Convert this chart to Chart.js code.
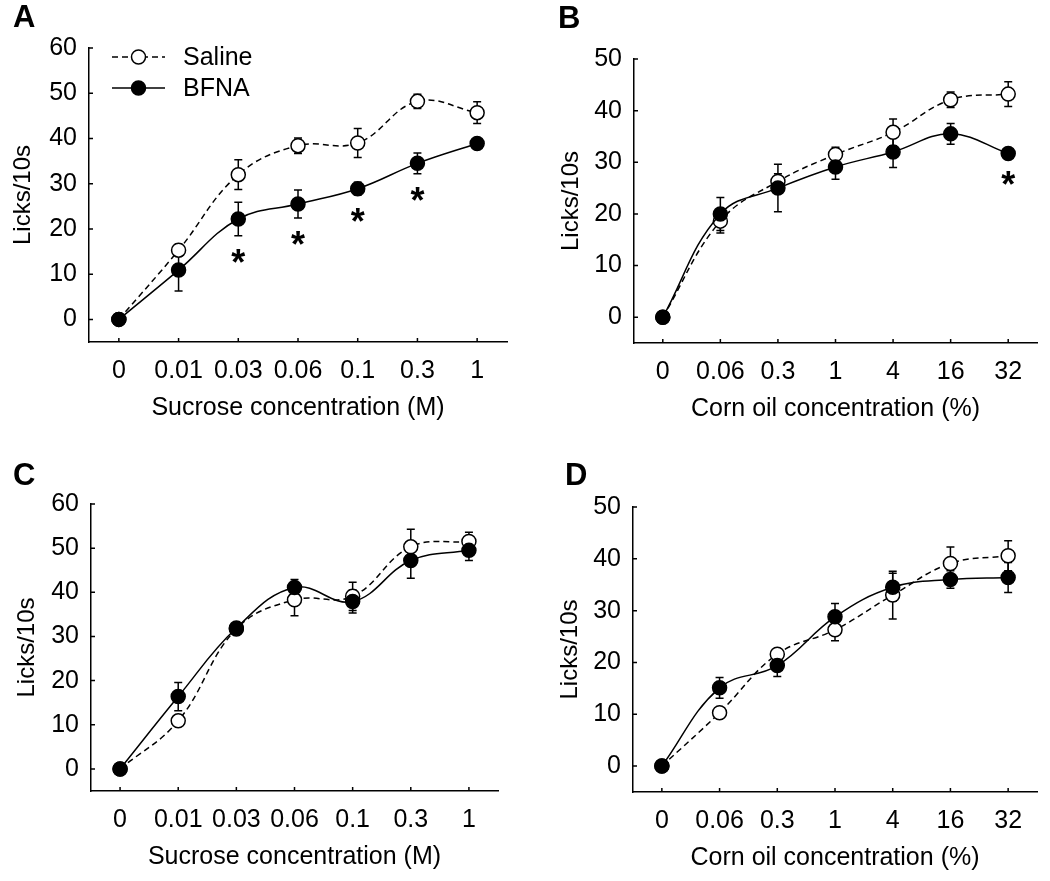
<!DOCTYPE html>
<html>
<head>
<meta charset="utf-8">
<script src="https://cdn.jsdelivr.net/npm/chart.js@4"></script>
<style>
  body { margin: 0; background: #fff; }
  #wrap { position: relative; width: 1050px; height: 881px; }
  canvas { position: absolute; }
</style>
</head>
<body>
<div id="wrap">
  <canvas id="panelA" width="525" height="440" style="left:0;top:0"></canvas>
  <canvas id="panelB" width="525" height="440" style="left:525px;top:0"></canvas>
  <canvas id="panelC" width="525" height="441" style="left:0;top:440px"></canvas>
  <canvas id="panelD" width="525" height="441" style="left:525px;top:440px"></canvas>
</div>
<script>
// categories
const sucrose = ["0", "0.01", "0.03", "0.06", "0.1", "0.3", "1"];
const cornOil = ["0", "0.06", "0.3", "1", "4", "16", "32"];
const ticks60 = [0, 10, 20, 30, 40, 50, 60];
const ticks50 = [0, 10, 20, 30, 40, 50];

// A - sucrose
const salineA = [0, 15.3, 32.0, 38.4, 39.0, 48.2, 45.7];
const salineErrA = [0, 1.3, 3.3, 1.7, 3.2, 1.6, 2.4];
const bfnaA = [0, 10.9, 22.2, 25.5, 28.9, 34.5, 38.9];
const bfnaErrA = [0, 4.6, 3.7, 3.1, 1.4, 2.3, 1.0];
const starsA = [0, 0, 1, 1, 1, 1, 0];

// B - corn oil
const salineB = [0, 18.6, 26.3, 31.5, 35.8, 42.1, 43.2];
const salineErrB = [0, 2.3, 1.5, 1.4, 2.6, 1.5, 2.4];
const bfnaB = [0, 20.0, 25.0, 29.1, 32.0, 35.5, 31.7];
const bfnaErrB = [0, 3.2, 4.6, 2.4, 3.0, 2.0, 0.8];
const starsB = [0, 0, 0, 0, 0, 0, 1];

// C - sucrose
const salineC = [0, 10.9, 31.7, 38.3, 39.1, 50.3, 51.5];
const salineErrC = [0, 0.5, 1.0, 3.6, 3.2, 4.0, 2.1];
const bfnaC = [0, 16.4, 31.9, 41.1, 37.9, 47.2, 49.5];
const bfnaErrC = [0, 3.2, 1.2, 1.8, 2.6, 4.0, 2.3];

// D - corn oil
const salineD = [0, 10.3, 21.6, 26.3, 33.0, 39.1, 40.6];
const salineErrD = [0, 0.3, 0.8, 2.1, 4.6, 3.2, 2.9];
const bfnaD = [0, 15.1, 19.4, 28.8, 34.5, 36.0, 36.4];
const bfnaErrD = [0, 2.0, 2.1, 2.6, 2.7, 1.7, 2.9];

const FONT = '"Liberation Sans", Arial, Helvetica, sans-serif';

// error bars, stars, inward ticks, titles, letter, legend
const figurePlugin = {
    id: "figure",
    beforeDatasetsDraw(chart, args, opts) {
        const ctx = chart.ctx;
        const y = chart.scales.y;
        ctx.save();
        ctx.strokeStyle = "#000";
        ctx.lineWidth = 1.5;
        chart.data.datasets.forEach((ds, i) => {
            const meta = chart.getDatasetMeta(i);
            ds.errors.forEach((e, j) => {
                if (!e) return;
                const px = meta.data[j].x;
                const top = y.getPixelForValue(ds.data[j] + e);
                const bot = y.getPixelForValue(ds.data[j] - e);
                ctx.beginPath();
                ctx.moveTo(px, top); ctx.lineTo(px, bot);
                ctx.moveTo(px - 4, top); ctx.lineTo(px + 4, top);
                ctx.moveTo(px - 4, bot); ctx.lineTo(px + 4, bot);
                ctx.stroke();
            });
        });
        ctx.restore();
    },
    afterDraw(chart, args, opts) {
        const ctx = chart.ctx;
        const area = chart.chartArea;
        const xs = chart.scales.x, ys = chart.scales.y;
        ctx.save();
        ctx.strokeStyle = "#000";
        ctx.fillStyle = "#000";
        ctx.lineWidth = 1.5;

        // inward ticks
        ctx.beginPath();
        ys.ticks.forEach(t => {
            const py = ys.getPixelForValue(t.value);
            ctx.moveTo(area.left, py); ctx.lineTo(area.left + 4, py);
        });
        chart.data.labels.forEach((l, i) => {
            const px = xs.getPixelForValue(i);
            ctx.moveTo(px, area.bottom); ctx.lineTo(px, area.bottom - 4);
        });
        ctx.stroke();

        // asterisks under BFNA
        if (opts.stars) {
            const ds = chart.data.datasets[0];
            const meta = chart.getDatasetMeta(0);
            ctx.font = "bold 36px " + FONT;
            ctx.textAlign = "center";
            ctx.textBaseline = "alphabetic";
            opts.stars.forEach((s, j) => {
                if (!s) return;
                const low = ys.getPixelForValue(ds.data[j] - ds.errors[j]);
                ctx.fillText("*", meta.data[j].x, low + 19 + 20);
            });
        }

        // axis titles
        ctx.font = "25px " + FONT;
        ctx.textAlign = "center";
        ctx.textBaseline = "middle";
        ctx.fillText(opts.xTitle, (area.left + area.right) / 2, area.bottom + 66);
        ctx.save();
        ctx.font = "24px " + FONT;
        ctx.translate(opts.yTitleX, (area.top + area.bottom) / 2);
        ctx.rotate(-Math.PI / 2);
        ctx.fillText("Licks/10s", 0, 0);
        ctx.restore();

        // panel letter
        ctx.font = "bold 31px " + FONT;
        ctx.textAlign = "left";
        ctx.textBaseline = "alphabetic";
        ctx.fillText(opts.letter, opts.letterX, opts.letterY);

        // legend
        if (opts.legend) {
            const order = [1, 0];
            order.forEach((di, r) => {
                const ds = chart.data.datasets[di];
                const cy = area.top + 9 + r * 31;
                const x0 = area.left + 23, x1 = area.left + 76;
                ctx.save();
                ctx.lineWidth = 1.5;
                ctx.setLineDash(ds.borderDash || []);
                ctx.beginPath();
                ctx.moveTo(x0, cy); ctx.lineTo(x1, cy);
                ctx.stroke();
                ctx.setLineDash([]);
                ctx.beginPath();
                ctx.arc((x0 + x1) / 2, cy, 7, 0, Math.PI * 2);
                ctx.fillStyle = ds.pointBackgroundColor;
                ctx.fill();
                ctx.stroke();
                ctx.restore();
                ctx.font = "25px " + FONT;
                ctx.textAlign = "left";
                ctx.textBaseline = "middle";
                ctx.fillText(ds.label, area.left + 94, cy + 1);
            });
        }
        ctx.restore();
    }
};

function makePanel(id, labels, bfna, bfnaErr, saline, salineErr, yMax, yTicks, box, fig) {
    const h = document.getElementById(id).height;
    new Chart(document.getElementById(id), {
        type: "line",
        data: {
            labels: labels,
            datasets: [{
                label: "BFNA",
                data: bfna,
                errors: bfnaErr,
                borderColor: "#000",
                borderWidth: 1.5,
                tension: 0.4,
                pointRadius: 7,
                pointBorderWidth: 1.5,
                pointBackgroundColor: "#000",
                pointBorderColor: "#000"
            }, {
                label: "Saline",
                data: saline,
                errors: salineErr,
                borderColor: "#000",
                borderWidth: 1.5,
                borderDash: [6, 4],
                tension: 0.4,
                pointRadius: 7,
                pointBorderWidth: 1.5,
                pointBackgroundColor: "#fff",
                pointBorderColor: "#000"
            }]
        },
        options: {
            responsive: false,
            animation: false,
            layout: { padding: { top: box.top, right: 525 - box.right, left: 0, bottom: 0 } },
            plugins: {
                legend: { display: false },
                tooltip: { enabled: false },
                figure: fig
            },
            scales: {
                x: {
                    type: "category",
                    offset: true,
                    grid: { display: false, drawTicks: false },
                    border: { display: true, color: "#000", width: 1.5 },
                    ticks: {
                        color: "#000",
                        font: { family: FONT, size: 25 },
                        padding: 14,
                        autoSkip: false,
                        maxRotation: 0
                    },
                    afterFit: s => { s.height = h - box.bottom; }
                },
                y: {
                    min: -5,
                    max: yMax,
                    grid: { display: false, drawTicks: false },
                    border: { display: true, color: "#000", width: 1.5 },
                    ticks: {
                        color: "#000",
                        font: { family: FONT, size: 25 },
                        padding: 12
                    },
                    afterBuildTicks: s => { s.ticks = yTicks.map(v => ({ value: v })); },
                    afterFit: s => { s.width = box.left; }
                }
            }
        },
        plugins: [figurePlugin]
    });
}

makePanel("panelA", sucrose, bfnaA, bfnaErrA, salineA, salineErrA, 60, ticks60,
    { left: 89, right: 507, top: 48, bottom: 342 },
    { letter: "A", letterX: 13, letterY: 27, yTitleX: 23, xTitle: "Sucrose concentration (M)", stars: starsA, legend: true });
makePanel("panelB", cornOil, bfnaB, bfnaErrB, salineB, salineErrB, 50, ticks50,
    { left: 109, right: 512, top: 59, bottom: 343 },
    { letter: "B", letterX: 33, letterY: 28, yTitleX: 46, xTitle: "Corn oil concentration (%)", stars: starsB });
makePanel("panelC", sucrose, bfnaC, bfnaErrC, salineC, salineErrC, 60, ticks60,
    { left: 91, right: 498, top: 64, bottom: 351 },
    { letter: "C", letterX: 13, letterY: 45, yTitleX: 27, xTitle: "Sucrose concentration (M)" });
makePanel("panelD", cornOil, bfnaD, bfnaErrD, salineD, salineErrD, 50, ticks50,
    { left: 108, right: 512, top: 67, bottom: 352 },
    { letter: "D", letterX: 40, letterY: 45, yTitleX: 45, xTitle: "Corn oil concentration (%)" });
</script>
</body>
</html>
